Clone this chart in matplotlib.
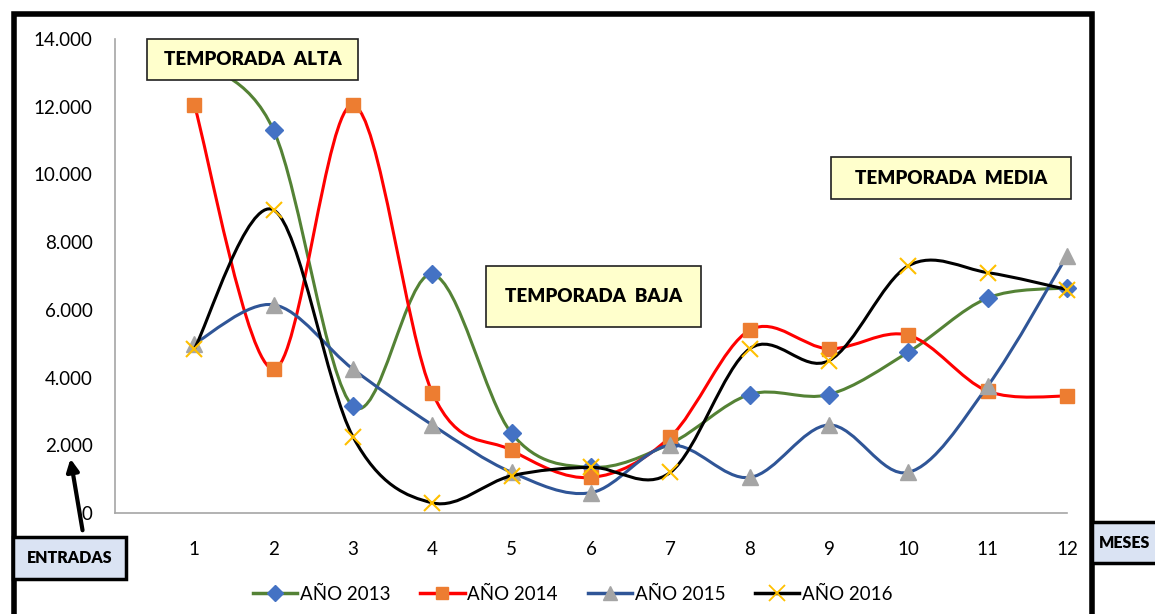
import matplotlib.pyplot as plt
from matplotlib.path import Path
from matplotlib.patches import PathPatch, Rectangle, FancyArrowPatch
from matplotlib.ticker import FuncFormatter
from matplotlib.lines import Line2D
import numpy as np

plt.rcParams['font.family'] = ['Lato', 'DejaVu Sans']

meses = [1, 2, 3, 4, 5, 6, 7, 8, 9, 10, 11, 12]
anio_2013 = [13400, 11300, 3150, 7050, 2350, 1350, 2050, 3500, 3500, 4750, 6350, 6650]
anio_2014 = [12050, 4250, 12050, 3550, 1850, 1050, 2250, 5400, 4850, 5250, 3600, 3450]
anio_2015 = [5000, 6150, 4250, 2600, 1200, 600, 2000, 1050, 2600, 1200, 3750, 7600]
anio_2016 = [4850, 8950, 2250, 300, 1100, 1350, 1200, 4850, 4500, 7300, 7100, 6600]

series = [
    ("AÑO 2013", anio_2013, "#548235", "D", "#4472C4", 9),
    ("AÑO 2014", anio_2014, "#FF0000", "s", "#ED7D31", 10),
    ("AÑO 2015", anio_2015, "#2F5597", "^", "#A5A5A5", 11),
    ("AÑO 2016", anio_2016, "#000000", "x", "#FFC000", 12),
]

W, H = 1155, 614


def smooth_path(x, y):
    # catmull-rom style bezier, like excel's smoothed line
    pts = np.column_stack([x, y]).astype(float)
    n = len(pts)
    verts = [pts[0]]
    codes = [Path.MOVETO]
    for i in range(n - 1):
        p0 = pts[i - 1] if i > 0 else pts[i]
        p1 = pts[i]
        p2 = pts[i + 1]
        p3 = pts[i + 2] if i + 2 < n else pts[i + 1]
        c1 = p1 + (p2 - p0) / 6.0
        c2 = p2 - (p3 - p1) / 6.0
        verts += [c1, c2, p2]
        codes += [Path.CURVE4] * 3
    return Path(verts, codes)


def fx(px):
    return px / W


def fy(py):
    return 1 - py / H


fig = plt.figure(figsize=(W / 100, H / 100), dpi=100)
ax = fig.add_axes([fx(115), fy(513), fx(1067) - fx(115), fy(39) - fy(513)])

handles = []
for i, (name, vals, lc, mk, mc, ms) in enumerate(series):
    patch = PathPatch(smooth_path(meses, vals), facecolor="none", edgecolor=lc,
                      lw=2.2, zorder=2 + i * 2, capstyle="round")
    ax.add_patch(patch)
    if mk == "x":
        ax.plot(meses, vals, ls="none", marker=mk, ms=ms, mew=1.5, mec=mc,
                zorder=3 + i * 2, clip_on=False)
    else:
        ax.plot(meses, vals, ls="none", marker=mk, ms=ms, mfc=mc, mec=mc,
                zorder=3 + i * 2, clip_on=False)
    handles.append(Line2D([], [], color=lc, lw=2.5, marker=mk, ms=ms - 1,
                          mfc=mc, mec=mc, mew=1.3 if mk == "x" else 1,
                          label=name))

ax.set_xlim(0, 12)
ax.set_ylim(0, 14000)
ax.set_xticks(meses)
ax.set_yticks(np.arange(0, 14001, 2000))
ax.yaxis.set_major_formatter(FuncFormatter(lambda v, p: f"{int(v):,}".replace(",", ".")))
ax.tick_params(axis="both", length=0, labelsize=13.5, colors="#000000")
ax.tick_params(axis="y", pad=16)
ax.tick_params(axis="x", pad=20)
for s in ["top", "right"]:
    ax.spines[s].set_visible(False)
for s in ["left", "bottom"]:
    ax.spines[s].set_color("#A6A6A6")
    ax.spines[s].set_linewidth(1.2)

fig.legend(handles=handles, loc="center", bbox_to_anchor=(0.496, fy(594)), ncol=4,
           frameon=False, fontsize=13.5, handlelength=2.35, columnspacing=1.6,
           handletextpad=0.15)

# outer frame
fig.add_artist(Rectangle((fx(14), -0.05), fx(1092) - fx(14), fy(14) + 0.05,
                         transform=fig.transFigure, fill=False, ec="black",
                         lw=4, zorder=1))

# season labels
boxes = [
    ("TEMPORADA  ALTA", 147, 39, 358, 80),
    ("TEMPORADA  BAJA", 486, 266, 701, 327),
    ("TEMPORADA  MEDIA", 831, 157, 1071, 199),
]
for txt, x0, y0, x1, y1 in boxes:
    fig.add_artist(Rectangle((fx(x0), fy(y1)), fx(x1) - fx(x0), fy(y0) - fy(y1),
                             transform=fig.transFigure, fc="#FFFFCC", ec="#202020",
                             lw=1.2, zorder=10))
    fig.text(fx((x0 + x1) / 2), fy((y0 + y1) / 2), txt, ha="center", va="center",
             fontsize=13.5, fontweight="heavy", zorder=11)

# axis title boxes
for txt, x0, y0, x1, y1 in [("ENTRADAS", 13, 537, 126, 579), ("MESES", 1092, 522, 1170, 563)]:
    fig.add_artist(Rectangle((fx(x0), fy(y1)), fx(x1) - fx(x0), fy(y0) - fy(y1),
                             transform=fig.transFigure, fc="#DAE3F3", ec="black",
                             lw=2.5, zorder=10))
    tx = (x0 + x1) / 2 if txt == "ENTRADAS" else 1125
    fig.text(fx(tx), fy((y0 + y1) / 2), txt, ha="center", va="center",
             fontsize=11.5, fontweight="heavy", zorder=11)

fig.add_artist(FancyArrowPatch((fx(83), fy(533)), (fx(70), fy(456)),
                               transform=fig.transFigure, arrowstyle="-|>",
                               mutation_scale=18, lw=3, color="black", zorder=9))

fig.savefig("out.png", dpi=100)
